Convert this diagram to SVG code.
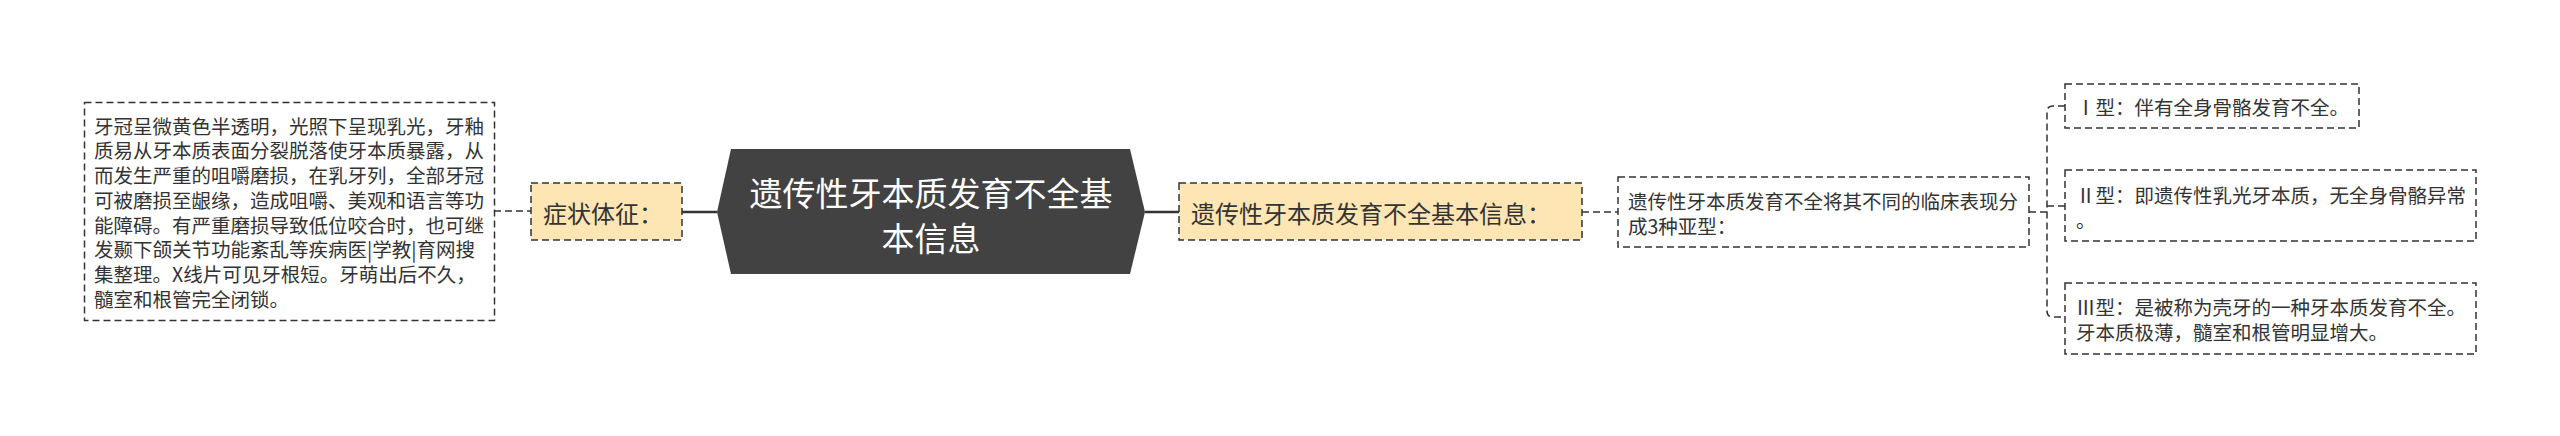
<svg xmlns="http://www.w3.org/2000/svg" width="2560" height="436" viewBox="0 0 2560 436">
<style>
.t{font-family:"Noto Sans CJK SC","Liberation Sans",sans-serif;fill:#333;dominant-baseline:central}
.s{font-size:19.5px}
.m{font-size:24px}
.c{font-size:33px;fill:#fff;text-anchor:middle}
.box{fill:#fff;stroke:#333;stroke-width:1.5;stroke-dasharray:7 4}
.hl{fill:#fde6b3;stroke:#333;stroke-width:1.5;stroke-dasharray:7 4}
.dl{fill:none;stroke:#333;stroke-width:1.5;stroke-dasharray:7 4}
.sl{fill:none;stroke:#333;stroke-width:2.5}
</style>
<rect width="2560" height="436" fill="#fff"/>
<g id="connectors">
<path class="dl" d="M494,211 H531"/>
<path class="sl" d="M682,212 H717"/>
<path class="sl" d="M1145,212 H1179"/>
<path class="dl" d="M1582,212 H1618"/>
<path class="dl" d="M2029,212 H2047"/>
<path class="dl" d="M2065,106 H2053 Q2047,106 2047,112 V311 Q2047,317 2053,317 H2065"/>
<path class="dl" d="M2047,206 H2065"/>
</g>
<g id="center">
<polygon points="717,212 731,149 1130,149 1145,212 1130,274 731,274" fill="#424242"/>
<text class="t c" x="931" y="192">遗传性牙本质发育不全基</text>
<text class="t c" x="931" y="237">本信息</text>
</g>
<g id="symptom">
<rect class="hl" x="531" y="183" width="151" height="57"/>
<text class="t m" x="543" y="212">症状体征：</text>
</g>
<g id="symptom-detail">
<rect class="box" x="84.5" y="102.5" width="410" height="218"/>
<text class="t s" x="94" y="125">牙冠呈微黄色半透明，光照下呈现乳光，牙釉</text>
<text class="t s" x="94" y="149.75">质易从牙本质表面分裂脱落使牙本质暴露，从</text>
<text class="t s" x="94" y="174.5">而发生严重的咀嚼磨损，在乳牙列，全部牙冠</text>
<text class="t s" x="94" y="199.25">可被磨损至龈缘，造成咀嚼、美观和语言等功</text>
<text class="t s" x="94" y="224">能障碍。有严重磨损导致低位咬合时，也可继</text>
<text class="t s" x="94" y="248.75">发颞下颌关节功能紊乱等疾病医|学教|育网搜</text>
<text class="t s" x="94" y="273.5">集整理。X线片可见牙根短。牙萌出后不久，</text>
<text class="t s" x="94" y="298.25">髓室和根管完全闭锁。</text>
</g>
<g id="info">
<rect class="hl" x="1179" y="183" width="403" height="57"/>
<text class="t m" x="1191" y="212">遗传性牙本质发育不全基本信息：</text>
</g>
<g id="desc">
<rect class="box" x="1618" y="177" width="411" height="70"/>
<text class="t s" x="1628" y="200">遗传性牙本质发育不全将其不同的临床表现分</text>
<text class="t s" x="1628" y="225">成3种亚型：</text>
</g>
<g id="type1">
<rect class="box" x="2065" y="84" width="294" height="44"/>
<text class="t s" x="2076" y="106">Ⅰ型：伴有全身骨骼发育不全。</text>
</g>
<g id="type2">
<rect class="box" x="2065" y="170" width="411" height="71"/>
<text class="t s" x="2076" y="194">Ⅱ型：即遗传性乳光牙本质，无全身骨骼异常</text>
<text class="t s" x="2076" y="219">。</text>
</g>
<g id="type3">
<rect class="box" x="2065" y="283" width="411" height="71"/>
<text class="t s" x="2076" y="306">Ⅲ型：是被称为壳牙的一种牙本质发育不全。</text>
<text class="t s" x="2076" y="331">牙本质极薄，髓室和根管明显增大。</text>
</g>
</svg>
